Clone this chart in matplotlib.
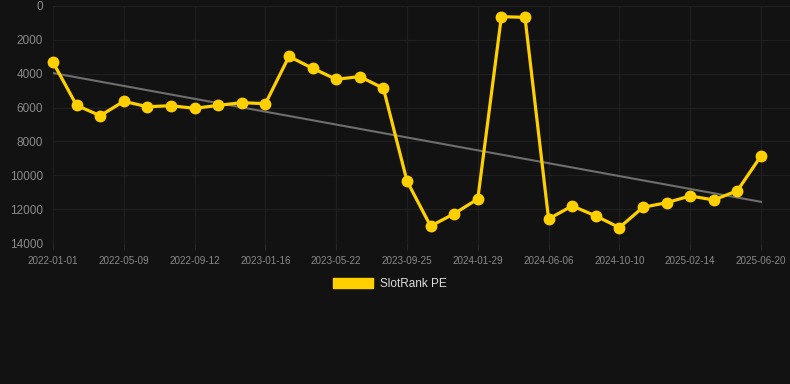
import numpy as np
import matplotlib
matplotlib.use("Agg")
import matplotlib.pyplot as plt
from matplotlib.patches import Patch

# SlotRank PE, one point per period (31 periods), labels every 3rd period
tick_labels = ["2022-01-01", "2022-05-09", "2022-09-12", "2023-01-16",
               "2023-05-22", "2023-09-25", "2024-01-29", "2024-06-06",
               "2024-10-10", "2025-02-14", "2025-06-20"]
rank_values = [3320, 5870, 6480, 5630, 5950, 5890, 6045, 5870, 5710, 5770,
               2980, 3680, 4330, 4170, 4860, 10340, 13000, 12270, 11400,
               630, 670, 12580, 11810, 12400, 13090, 11890, 11620, 11220,
               11460, 10910, 8860]
series_name = "SlotRank PE"

BG = "#121212"
GOLD = "#FFD000"
TXT = "#8a8a8a"

x = np.arange(len(rank_values))
y = np.array(rank_values, dtype=float)

# linear trend over the series
slope, intercept = np.polyfit(x, y, 1)
trend = slope * x + intercept

fig = plt.figure(figsize=(7.9, 3.84), dpi=100, facecolor=BG)
ax = fig.add_axes([53 / 790, (384 - 243) / 384, (790 - 53) / 790, 237 / 384])
ax.set_facecolor(BG)

ax.plot(x, trend, color="#6e6e6e", linewidth=1.5, zorder=2)
ax.plot(x, y, color=GOLD, linewidth=2.3, marker="o", markersize=7.5,
        zorder=3, clip_on=False)

ax.set_xlim(0, 31.23)
ax.set_ylim(14000, 0)
ax.set_yticks(np.arange(0, 14001, 2000))
ax.set_xticks(x[::3])
ax.set_xticklabels(tick_labels)

ax.grid(True, color="#1f1f1f", linewidth=0.9)
ax.set_axisbelow(True)
for s in ax.spines.values():
    s.set_visible(False)

ax.tick_params(axis="y", length=0, pad=7, labelsize=8.5, labelcolor=TXT)
ax.tick_params(axis="x", length=5, color="#262626", pad=4, labelsize=7.1,
               labelcolor=TXT)
for lab in ax.get_xticklabels() + ax.get_yticklabels():
    lab.set_fontfamily(["Liberation Sans", "DejaVu Sans"])

handle = Patch(facecolor=GOLD, edgecolor=GOLD)
fig.legend([handle], [series_name], loc="center",
           bbox_to_anchor=(390 / 790, 1 - 284 / 384), frameon=False,
           handlelength=3.4, handleheight=0.85, handletextpad=0.55,
           prop={"family": ["Liberation Sans", "DejaVu Sans"], "size": 8.5},
           labelcolor="#dddddd")

fig.savefig("out.png", dpi=100, facecolor=BG)
